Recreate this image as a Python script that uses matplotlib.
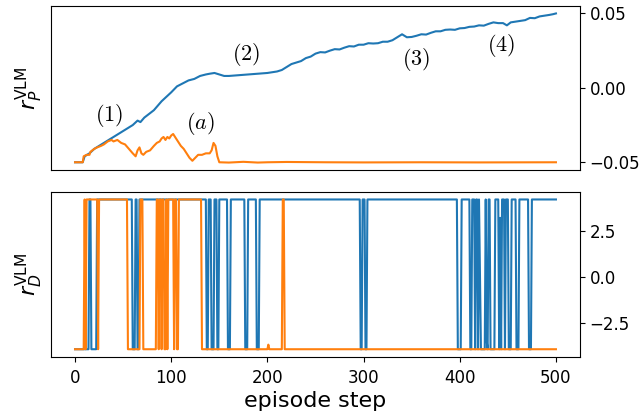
import matplotlib
matplotlib.use("Agg")
import matplotlib.pyplot as plt
import numpy as np

# top panel: r_P^VLM (step, value)
blue_p_x = [0, 8, 10, 15, 20, 25, 30, 35, 40, 45, 50, 55, 60, 65, 68, 72, 78, 82, 86, 90,
            95, 100, 106, 112, 118, 124, 130, 136, 140, 145, 150, 155, 160, 170, 180, 190,
            200, 210, 215, 220, 225, 230, 235, 240, 245, 250, 255, 260, 265, 270, 275, 280,
            285, 290, 295, 300, 305, 310, 315, 320, 325, 330, 335, 340, 345, 350, 355, 360,
            365, 370, 375, 380, 385, 390, 395, 400, 405, 410, 415, 420, 425, 430, 435, 440,
            445, 449, 453, 458, 463, 468, 473, 478, 483, 488, 493, 497, 500]
blue_p_y = [-0.050, -0.050, -0.046, -0.044, -0.041, -0.039, -0.037, -0.035, -0.033, -0.031,
            -0.029, -0.027, -0.025, -0.022, -0.023, -0.020, -0.017, -0.015, -0.012, -0.009,
            -0.006, -0.003, 0.001, 0.003, 0.005, 0.006, 0.008, 0.009, 0.0095, 0.010,
            0.009, 0.008, 0.008, 0.0085, 0.009, 0.0095, 0.010, 0.011, 0.012, 0.014,
            0.016, 0.017, 0.018, 0.020, 0.021, 0.023, 0.024, 0.0238, 0.025, 0.026,
            0.0258, 0.027, 0.028, 0.0278, 0.029, 0.029, 0.030, 0.0298, 0.030, 0.031,
            0.031, 0.032, 0.034, 0.036, 0.034, 0.0342, 0.035, 0.036, 0.0358, 0.037,
            0.038, 0.038, 0.039, 0.0392, 0.039, 0.040, 0.0402, 0.041, 0.0412, 0.042,
            0.0418, 0.043, 0.044, 0.0435, 0.0435, 0.042, 0.044, 0.0445, 0.045, 0.0455,
            0.047, 0.0468, 0.048, 0.0485, 0.049, 0.0495, 0.050]

orange_p_x = [0, 8, 9, 12, 15, 16, 20, 23, 27, 30, 34, 38, 40, 44, 48, 52, 56, 60, 63, 65,
              67, 69, 71, 74, 78, 82, 85, 88, 90, 92, 94, 96, 98, 100, 102, 104, 107, 110,
              113, 116, 119, 122, 125, 128, 132, 136, 140, 142, 144, 146, 148, 150, 160,
              175, 190, 200, 220, 260, 300, 360, 420, 500]
orange_p_y = [-0.050, -0.050, -0.046, -0.045, -0.045, -0.043, -0.041, -0.040, -0.039, -0.038,
              -0.036, -0.035, -0.036, -0.035, -0.037, -0.038, -0.041, -0.044, -0.046, -0.042,
              -0.040, -0.044, -0.045, -0.043, -0.042, -0.039, -0.037, -0.036, -0.034, -0.033,
              -0.035, -0.033, -0.034, -0.032, -0.031, -0.033, -0.036, -0.039, -0.041, -0.044,
              -0.047, -0.049, -0.047, -0.045, -0.045, -0.044, -0.044, -0.042, -0.037, -0.039,
              -0.046, -0.050, -0.0502, -0.0497, -0.0502, -0.0500, -0.0498, -0.0500, -0.0501,
              -0.0500, -0.0501, -0.0500]

# bottom panel: r_D^VLM jumps between two levels
high_level = 4.2
low_level = -3.95
n_steps = 501
# blue is high except in these [start, end) intervals
blue_low = [(0, 15), (17, 23), (60, 63), (65, 67), (137, 139), (142, 145), (148, 150),
            (159, 162), (177, 180), (189, 192), (297, 299), (302, 304), (398, 402),
            (411, 413), (416, 417), (419, 420), (422, 427), (429, 430), (432, 437),
            (441, 444), (447, 448), (451, 454), (459, 462), (472, 475)]
blue_odd = {421: 0.0, 428: -3.5, 442: 3.2}
# orange is low except in these [start, end) intervals
orange_high = [(10, 11), (12, 24), (25, 55), (68, 71), (85, 87), (88, 90), (91, 93),
               (95, 96), (97, 103), (104, 106), (108, 132), (216, 218)]
orange_odd = {201: -3.7}

steps = np.arange(n_steps)
blue_d = np.full(n_steps, high_level)
for a, b in blue_low:
    blue_d[a:b] = low_level
for k, v in blue_odd.items():
    blue_d[k] = v
orange_d = np.full(n_steps, low_level)
for a, b in orange_high:
    orange_d[a:b] = high_level
for k, v in orange_odd.items():
    orange_d[k] = v

fig = plt.figure(figsize=(6.43, 4.16), dpi=100)
ax1 = fig.add_axes([0.0793, 0.5913, 0.8227, 0.3943])
ax2 = fig.add_axes([0.0793, 0.1425, 0.8227, 0.3960], sharex=ax1)

ax1.plot(blue_p_x, blue_p_y, color="C0", lw=1.5)
ax1.plot(orange_p_x, orange_p_y, color="C1", lw=1.5)
ax2.plot(steps, blue_d, color="C0", lw=1.5)
ax2.plot(steps, orange_d, color="C1", lw=1.5)

# labels on the top curve
notes = [(35, -0.0187, "(1)"), (130, -0.024, "(a)"), (178, 0.0227, "(2)"),
         (355, 0.0193, "(3)"), (443, 0.0282, "(4)")]
for x, y, s in notes:
    ax1.text(x, y, "$" + s + "$", fontsize=16, ha="center", va="center", math_fontfamily="cm")

for ax in (ax1, ax2):
    ax.yaxis.tick_right()
    ax.tick_params(labelsize=12)
ax1.set_yticks([-0.05, 0.0, 0.05])
ax2.set_yticks([-2.5, 0.0, 2.5])
ax1.tick_params(axis="x", bottom=False, labelbottom=False)
ax2.set_xticks([0, 100, 200, 300, 400, 500])
ax2.tick_params(axis="x", pad=5)

ax1.set_ylabel(r"$r_P^{\rm VLM}$", fontsize=16)
ax2.set_ylabel(r"$r_D^{\rm VLM}$", fontsize=16)
ax2.set_xlabel("episode step", fontsize=16, labelpad=3)

fig.savefig("out.png", dpi=100)
